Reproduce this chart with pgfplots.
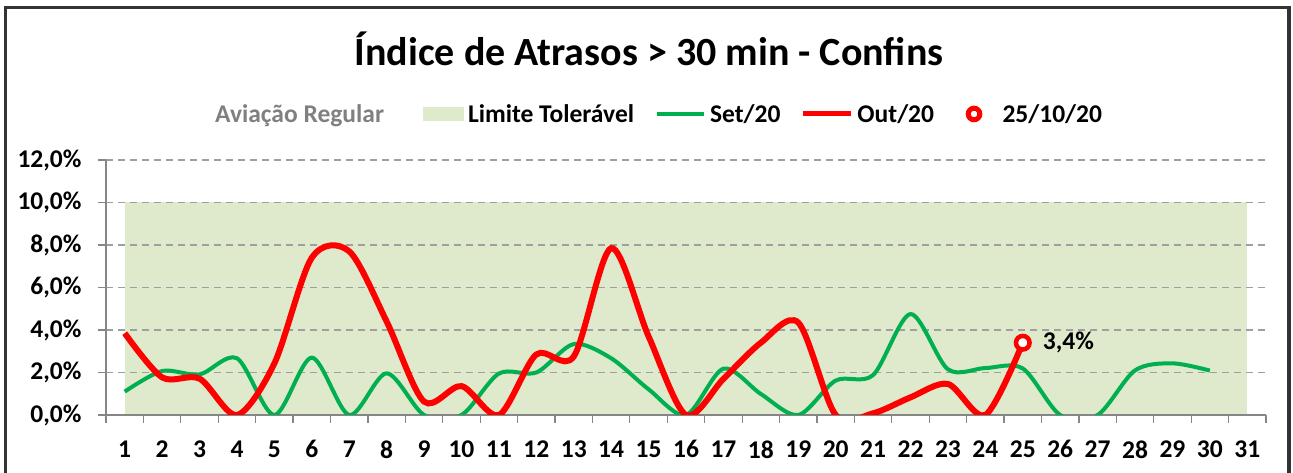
\documentclass[border=0pt]{standalone}
\usepackage{fontspec}
\setmainfont{Carlito}
\usepackage{pgfplots}
\pgfplotsset{compat=1.18}
\definecolor{limitcol}{RGB}{223,233,204}
\definecolor{sgreen}{RGB}{0,176,80}
\definecolor{axgray}{RGB}{134,134,134}
\definecolor{leggray}{RGB}{128,128,128}
\newcommand{\smallfont}{\bfseries\fontsize{25.5}{30}\selectfont}
\begin{document}
\begin{tikzpicture}[x=1pt,y=1pt]
\begin{axis}[
 set layers,
 scale only axis, width=1160pt, height=255pt,
 at={(106pt,58pt)}, anchor=south west,
 xmin=0.5, xmax=31.5, ymin=0, ymax=12,
 axis x line*=bottom, axis y line*=left,
 axis line style={-, draw=axgray, line width=1.2pt},
 xtick={1,...,31},
 xticklabels={1,2,3,4,5,6,7,8,9,10,11,12,13,14,15,16,17,18,19,20,21,22,23,24,25,26,27,28,29,30,31},
 minor xtick={0.5,1.5,...,31.5},
 ytick={0,2,4,6,8,10,12},
 yticklabels={{0,0\%},{2,0\%},{4,0\%},{6,0\%},{8,0\%},{10,0\%},{12,0\%}},
 tick align=outside,
 major tick length=8pt, minor tick length=8pt,
 major x tick style={draw=none},
 minor x tick style={draw=axgray, line width=1.2pt},
 major y tick style={draw=axgray, line width=1.2pt},
 ymajorgrids,
 major grid style={draw=gray!75, dash pattern=on 7pt off 5pt, line width=1.2pt},
 tick label style={font=\smallfont},
 xticklabel style={yshift=-14pt},
 yticklabel style={xshift=-13pt},
 legend columns=-1,
 legend style={draw=none, fill=none, inner sep=0pt, at={(0.09052,1.1804)}, anchor=west,
   font=\smallfont, nodes={inner xsep=0pt},
   /tikz/every odd column/.append style={column sep=4pt},
   /tikz/every even column/.append style={column sep=27pt}},
]
\addlegendimage{empty legend}
\addlegendentry{\textcolor{leggray}{Aviação Regular}\kern12pt}
\addplot[on layer=axis background, fill=limitcol, draw=none,
  legend image code/.code={\fill[limitcol] (0pt,-7pt) rectangle (41pt,7pt);}]
  coordinates {(1,10) (31,10)} \closedcycle;
\addlegendentry{Limite Tolerável\kern-6pt}
\addplot[sgreen, line width=4pt, smooth,
  legend image code/.code={\draw[sgreen, line width=4pt] (0pt,0pt) -- (47pt,0pt);}]
  coordinates {
  (1,1.1) (2,2.07) (3,1.91) (4,2.67) (5,0) (6,2.7) (7,0) (8,1.96) (9,0) (10,0)
  (11,1.95) (12,2.0) (13,3.34) (14,2.67) (15,1.21) (16,0) (17,2.18) (18,0.99) (19,0) (20,1.62)
  (21,1.88) (22,4.75) (23,2.15) (24,2.21) (25,2.19) (26,0) (27,0) (28,2.1) (29,2.43) (30,2.09)};
\addlegendentry{Set/20\kern-7pt}
\addplot[red, line width=6pt, smooth,
  legend image code/.code={\draw[red, line width=5pt] (0pt,0pt) -- (48pt,0pt);}]
  coordinates {
  (1,3.85) (2,1.77) (3,1.71) (4,0) (5,2.43) (6,7.4) (7,7.7) (8,4.4) (9,0.63) (10,1.36)
  (11,0) (12,2.85) (13,2.75) (14,7.85) (15,3.7) (16,0) (17,1.7) (18,3.4) (19,4.35) (20,0)
  (21,0.08) (22,0.83) (23,1.46) (24,0) (25,3.4)};
\addlegendentry{Out/20\kern-8.5pt}
\addplot[only marks, mark=*, mark size=6.8pt, mark options={draw=red, fill=white, line width=4.5pt},
  legend image code/.code={\path[draw=none, fill=none] (0pt,-1pt) rectangle (46pt,1pt); \draw[red, fill=white, line width=5pt] (21.5pt,0pt) circle (5.8pt);}]
  coordinates {(25,3.4)} node[pos=0, anchor=west, xshift=20pt, inner sep=0pt, font=\smallfont] {3,4\%};
\addlegendentry{25/10/20}
\end{axis}
\node[anchor=base, inner sep=0pt, font=\bfseries\fontsize{40}{48}\selectfont] at (649,407) {Índice de Atrasos > 30 min - Confins};
\draw[line width=3.5pt, black!80] (5.5,-5) -- (5.5,465.5) -- (1289,465.5) -- (1289,-5);
\pgfresetboundingbox
\path[use as bounding box] (0,0) rectangle (1293,473);
\end{tikzpicture}
\end{document}
